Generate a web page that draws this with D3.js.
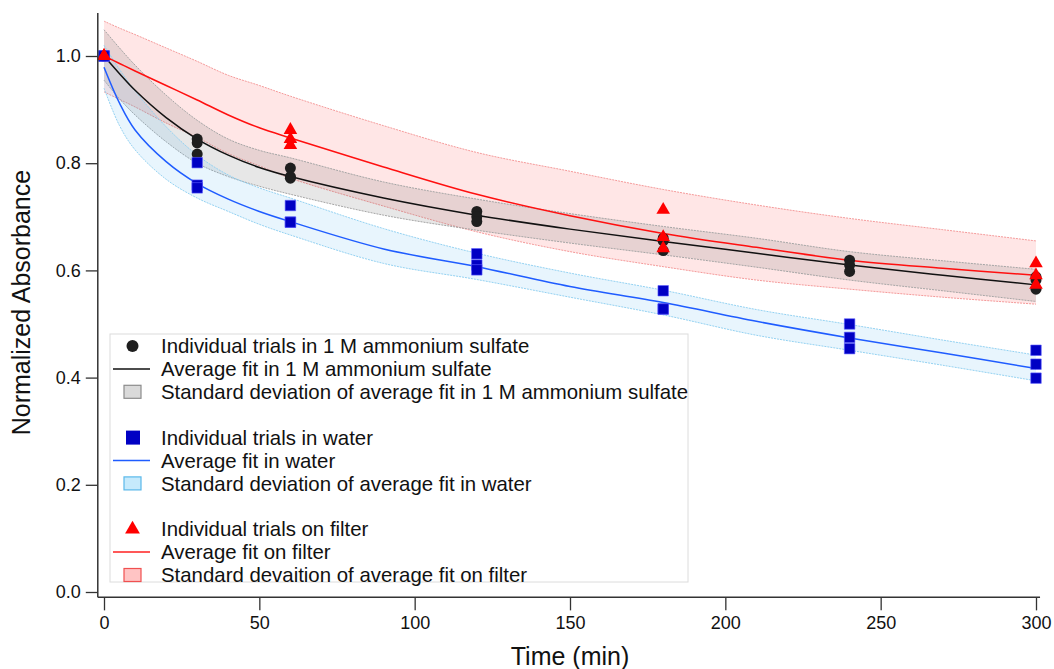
<!DOCTYPE html>
<html>
<head>
<meta charset="utf-8">
<script src="https://cdn.jsdelivr.net/npm/d3@7"></script>
<style>
  body { margin: 0; background: #fff; }
  text { font-family: "Liberation Sans", Arial, sans-serif; }
</style>
</head>
<body>
<div id="chart"></div>
<script>
// trial times (min)
var sampleTimes = [0, 30, 60, 120, 180, 240, 300];
var filterTimes = [0, 60, 180, 300];

// individual trials
var sulfateTrials = [
  [1.0, 0.845, 0.791, 0.710, 0.660, 0.619, 0.588],
  [1.0, 0.838, 0.775, 0.700, 0.655, 0.610, 0.582],
  [1.0, 0.817, 0.772, 0.691, 0.637, 0.598, 0.565]
];
var waterTrials = [
  [1.0, 0.801, 0.721, 0.631, 0.562, 0.500, 0.451],
  [1.0, 0.759, 0.690, 0.610, 0.528, 0.475, 0.425],
  [1.0, 0.754, 0.690, 0.601, 0.528, 0.454, 0.399]
];
var filterTrials = [
  [1.0, 0.862, 0.713, 0.613],
  [1.0, 0.845, 0.662, 0.591],
  [1.0, 0.834, 0.641, 0.573]
];

// average fits and their +/- standard deviation
var fitTimes     = [0, 5, 10, 20, 30, 40, 50, 60, 90, 120, 150, 180, 210, 240, 270, 300];
var sulfateFit   = [1.000, 0.967, 0.936, 0.885, 0.845, 0.815, 0.792, 0.775, 0.735, 0.703, 0.677, 0.654, 0.632, 0.610, 0.591, 0.573];
var sulfateUpper = [1.049, 1.015, 0.983, 0.927, 0.880, 0.845, 0.824, 0.810, 0.765, 0.733, 0.706, 0.682, 0.660, 0.635, 0.618, 0.602];
var sulfateLower = [0.955, 0.920, 0.890, 0.840, 0.800, 0.775, 0.757, 0.742, 0.703, 0.675, 0.651, 0.629, 0.606, 0.582, 0.562, 0.542];
var waterFit     = [0.979, 0.912, 0.862, 0.803, 0.762, 0.733, 0.710, 0.691, 0.640, 0.607, 0.570, 0.540, 0.505, 0.474, 0.446, 0.417];
var waterUpper   = [1.020, 0.975, 0.935, 0.868, 0.815, 0.778, 0.754, 0.735, 0.678, 0.632, 0.595, 0.563, 0.527, 0.499, 0.470, 0.442];
var waterLower   = [0.940, 0.870, 0.825, 0.770, 0.735, 0.710, 0.686, 0.666, 0.613, 0.583, 0.550, 0.517, 0.479, 0.451, 0.423, 0.394];
var filterFit    = [1.000, 0.986, 0.972, 0.945, 0.918, 0.890, 0.866, 0.847, 0.793, 0.742, 0.702, 0.669, 0.643, 0.619, 0.604, 0.591];
var filterUpper  = [1.065, 1.052, 1.040, 1.015, 0.990, 0.964, 0.945, 0.925, 0.870, 0.820, 0.785, 0.751, 0.722, 0.697, 0.676, 0.655];
var filterLower  = [0.933, 0.919, 0.905, 0.875, 0.848, 0.818, 0.795, 0.772, 0.720, 0.672, 0.635, 0.607, 0.582, 0.565, 0.550, 0.537];

var xTicks = [0, 50, 100, 150, 200, 250, 300];
var yTicks = [0.0, 0.2, 0.4, 0.6, 0.8, 1.0];

var width = 1054, height = 669;

var svg = d3.select("#chart").append("svg")
  .attr("width", width)
  .attr("height", height);

var x = d3.scaleLinear().domain([0, 300]).range([104, 1036]);
var y = d3.scaleLinear().domain([0, 1]).range([592, 56]);

var axisX = x(-2.0);   // where the left axis sits
var axisY = y(-0.01);  // where the bottom axis sits

var smooth = d3.curveCatmullRom.alpha(0.5);

// bands
function band(upper, lower) {
  return d3.area()
    .x((d, i) => x(fitTimes[i]))
    .y0((d, i) => y(lower[i]))
    .y1((d, i) => y(upper[i]))
    .curve(smooth)(fitTimes);
}
function edge(vals) {
  return d3.line()
    .x((d, i) => x(fitTimes[i]))
    .y(d => y(d))
    .curve(smooth)(vals);
}

var bands = [
  {up: filterUpper, lo: filterLower, fill: "rgba(255,60,60,0.13)", stroke: "#f59a9a"},
  {up: sulfateUpper, lo: sulfateLower, fill: "rgba(110,110,110,0.17)", stroke: "#a5a5a5"},
  {up: waterUpper, lo: waterLower, fill: "rgba(110,195,245,0.16)", stroke: "#94d2f2"}
];

bands.forEach(b => {
  svg.append("path").attr("d", band(b.up, b.lo)).attr("fill", b.fill);
  svg.append("path").attr("d", edge(b.up)).attr("fill", "none")
    .attr("stroke", b.stroke).attr("stroke-width", 1).attr("stroke-dasharray", "2,1");
  svg.append("path").attr("d", edge(b.lo)).attr("fill", "none")
    .attr("stroke", b.stroke).attr("stroke-width", 1).attr("stroke-dasharray", "2,1");
});

// fit lines
var fits = [
  {vals: filterFit, color: "#ff1010"},
  {vals: sulfateFit, color: "#111111"},
  {vals: waterFit, color: "#1f5cff"}
];
fits.forEach(f => {
  svg.append("path").attr("d", edge(f.vals)).attr("fill", "none")
    .attr("stroke", f.color).attr("stroke-width", 1.5);
});

// points
var sulfatePts = [], waterPts = [], filterPts = [];
sulfateTrials.forEach(tr => tr.forEach((v, i) => sulfatePts.push([sampleTimes[i], v])));
waterTrials.forEach(tr => tr.forEach((v, i) => waterPts.push([sampleTimes[i], v])));
filterTrials.forEach(tr => tr.forEach((v, i) => filterPts.push([filterTimes[i], v])));

svg.append("g").selectAll("circle")
  .data(sulfatePts).enter().append("circle")
  .attr("cx", d => x(d[0])).attr("cy", d => y(d[1]))
  .attr("r", 5.5).attr("fill", "#1e1e1e");

svg.append("g").selectAll("path")
  .data(waterPts).enter().append("path")
  .attr("transform", d => `translate(${x(d[0])},${y(d[1])})`)
  .attr("d", d3.symbol(d3.symbolSquare, 110))
  .attr("fill", "#0000c4").attr("stroke", "#5a5aff").attr("stroke-width", 0.6);

svg.append("g").selectAll("path")
  .data(filterPts).enter().append("path")
  .attr("transform", d => `translate(${x(d[0])},${y(d[1])})`)
  .attr("d", d3.symbol(d3.symbolTriangle, 80))
  .attr("fill", "#ff0000");

// axes
var axisColor = "#333";
var yAxis = svg.append("g").attr("transform", `translate(${axisX},0)`)
  .call(d3.axisLeft(y).tickValues(yTicks).tickFormat(d3.format(".1f"))
    .tickSize(12).tickPadding(5).tickSizeOuter(0));
yAxis.select(".domain").remove();
yAxis.selectAll("line").attr("stroke", axisColor).attr("stroke-width", 1.3);
yAxis.selectAll("text").attr("font-size", 18).attr("fill", "#111")
  .attr("font-family", "Liberation Sans, Arial, sans-serif");
svg.append("line")
  .attr("x1", axisX).attr("x2", axisX)
  .attr("y1", y(1.08)).attr("y2", axisY)
  .attr("stroke", axisColor).attr("stroke-width", 1.5);

var xAxis = svg.append("g").attr("transform", `translate(0,${axisY})`)
  .call(d3.axisBottom(x).tickValues(xTicks).tickFormat(d3.format("d"))
    .tickSize(13).tickPadding(6).tickSizeOuter(0));
xAxis.select(".domain").remove();
xAxis.selectAll("line").attr("stroke", axisColor).attr("stroke-width", 1.3);
xAxis.selectAll("text").attr("font-size", 18).attr("fill", "#111")
  .attr("font-family", "Liberation Sans, Arial, sans-serif");
svg.append("line")
  .attr("x1", axisX).attr("x2", x(301.3))
  .attr("y1", axisY).attr("y2", axisY)
  .attr("stroke", axisColor).attr("stroke-width", 1.5);

// axis titles
svg.append("text")
  .attr("x", x(150)).attr("y", 665)
  .attr("text-anchor", "middle")
  .attr("font-size", 25).attr("fill", "#111")
  .text("Time (min)");

svg.append("text")
  .attr("transform", `translate(30,${y(0.54)}) rotate(-90)`)
  .attr("text-anchor", "middle")
  .attr("font-size", 25).attr("fill", "#111")
  .text("Normalized Absorbance");

// legend
var legend = svg.append("g").attr("transform", "translate(110,334)");
legend.append("rect")
  .attr("width", 578).attr("height", 248)
  .attr("fill", "#fff").attr("stroke", "#dcdcdc").attr("stroke-width", 1);

var legendItems = [
  {kind: "circle", color: "#1e1e1e", label: "Individual trials in 1 M ammonium sulfate", row: 0},
  {kind: "line", color: "#111111", label: "Average fit in 1 M ammonium sulfate", row: 1},
  {kind: "box", color: "#dadada", border: "#8c8c8c", label: "Standard deviation of average fit in 1 M ammonium sulfate", row: 2},
  {kind: "square", color: "#0000c4", label: "Individual trials in water", row: 4},
  {kind: "line", color: "#1f5cff", label: "Average fit in water", row: 5},
  {kind: "box", color: "#c6eafc", border: "#5ab8ea", label: "Standard deviation of average fit in water", row: 6},
  {kind: "triangle", color: "#ff0000", label: "Individual trials on filter", row: 8},
  {kind: "line", color: "#ff2020", label: "Average fit on filter", row: 9},
  {kind: "box", color: "#ffc4c4", border: "#f05050", label: "Standard devaition of average fit on filter", row: 10}
];

var rowY = r => 12 + r * 22.9;

legendItems.forEach(it => {
  var g = legend.append("g").attr("transform", `translate(0,${rowY(it.row)})`);
  if (it.kind === "circle") {
    g.append("circle").attr("cx", 22.5).attr("cy", 0).attr("r", 6).attr("fill", it.color);
  } else if (it.kind === "square") {
    g.append("rect").attr("x", 16).attr("y", -7).attr("width", 14).attr("height", 14).attr("fill", it.color);
  } else if (it.kind === "triangle") {
    g.append("path").attr("transform", "translate(22.5,0)")
      .attr("d", d3.symbol(d3.symbolTriangle, 95)).attr("fill", it.color);
  } else if (it.kind === "line") {
    g.append("line").attr("x1", 3).attr("x2", 40).attr("y1", 0).attr("y2", 0)
      .attr("stroke", it.color).attr("stroke-width", 1.5);
  } else {
    g.append("rect").attr("x", 14).attr("y", -6.5).attr("width", 17).attr("height", 13)
      .attr("fill", it.color).attr("stroke", it.border).attr("stroke-width", 1.2);
  }
  g.append("text").attr("x", 51).attr("y", 0).attr("dy", "0.35em")
    .attr("font-size", 20.4).attr("fill", "#111")
    .text(it.label);
});
</script>
</body>
</html>
